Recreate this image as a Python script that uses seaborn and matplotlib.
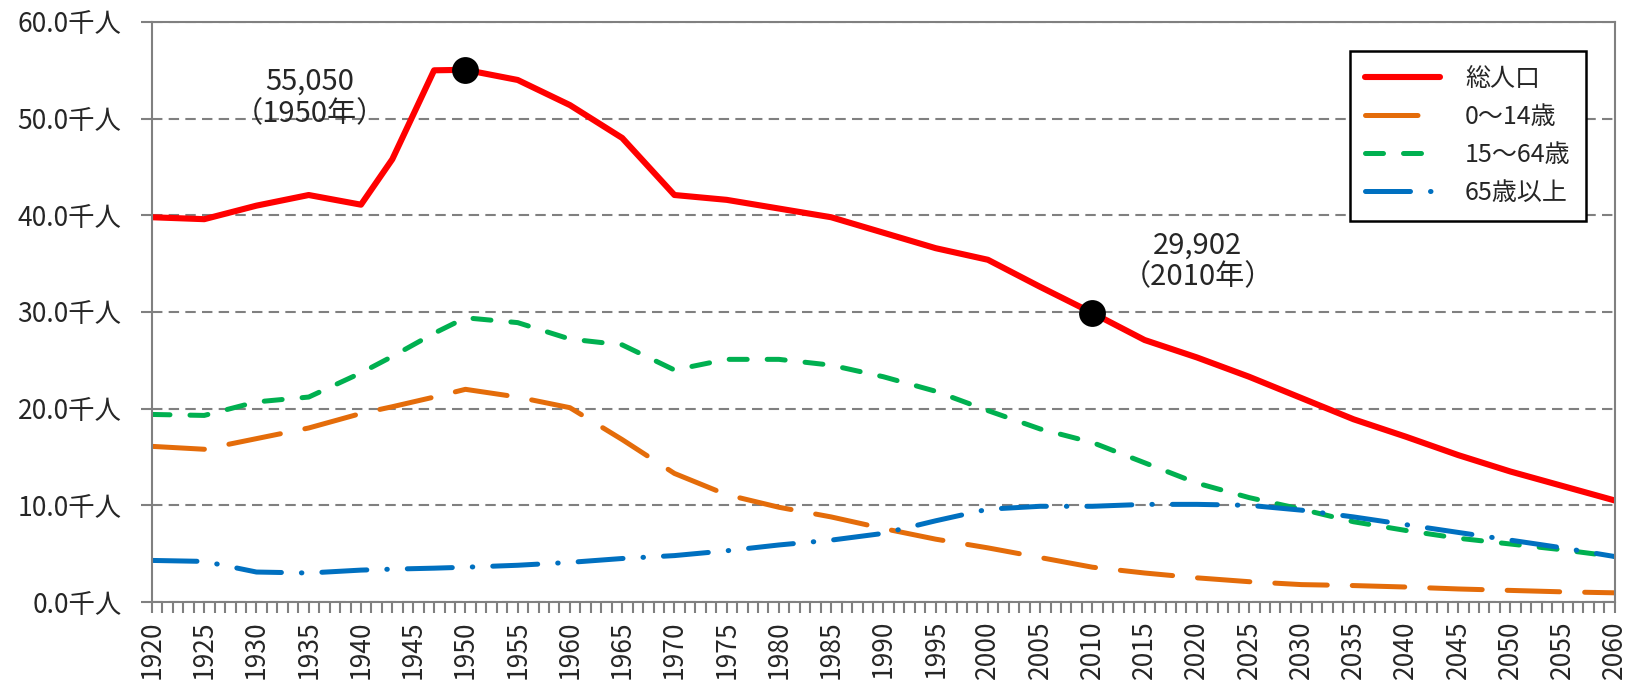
import pandas as pd
import matplotlib
matplotlib.use("Agg")
import matplotlib.pyplot as plt
import seaborn as sns
from matplotlib.ticker import MultipleLocator, FuncFormatter

# values (thousand people)
years = [1920, 1925, 1930, 1935, 1940, 1943, 1947, 1950, 1955, 1960, 1965, 1970, 1975,
         1980, 1985, 1990, 1995, 2000, 2005, 2010, 2015, 2020, 2025, 2030, 2035, 2040,
         2045, 2050, 2055, 2060]
total = [39.8, 39.6, 41.0, 42.1, 41.1, 45.8, 55.0, 55.05, 54.0, 51.4, 48.0, 42.1, 41.6,
         40.7, 39.8, 38.2, 36.6, 35.4, 32.6, 29.902, 27.1, 25.3, 23.3, 21.1, 18.9, 17.1,
         15.2, 13.5, 12.0, 10.5]
age_0_14 = [16.1, 15.8, 16.9, 18.0, 19.5, 20.2, 21.2, 22.0, 21.2, 20.1, 16.8, 13.3, 11.1,
            9.8, 8.8, 7.6, 6.5, 5.6, 4.6, 3.6, 3.0, 2.5, 2.1, 1.8, 1.7, 1.55,
            1.35, 1.2, 1.05, 0.95]
age_15_64 = [19.4, 19.3, 20.7, 21.2, 23.7, 25.4, 27.8, 29.4, 28.9, 27.2, 26.6, 24.0, 25.1,
             25.1, 24.5, 23.3, 21.8, 19.8, 17.9, 16.5, 14.4, 12.3, 10.8, 9.6, 8.3, 7.4,
             6.6, 6.0, 5.4, 4.7]
age_65 = [4.3, 4.2, 3.1, 3.0, 3.3, 3.4, 3.5, 3.6, 3.8, 4.1, 4.5, 4.8, 5.3,
          5.9, 6.4, 7.1, 8.4, 9.6, 9.9, 9.9, 10.1, 10.1, 10.0, 9.5, 8.8, 8.0,
          7.2, 6.4, 5.6, 4.7]

series_names = ["総人口", "0～14歳", "15～64歳", "65歳以上"]
marked_years = [1950, 2010]
marked_labels = ["55,050\n（1950年）", "29,902\n（2010年）"]
y_ticks = [0, 10, 20, 30, 40, 50, 60]

# long-form table for seaborn
wide = pd.DataFrame({"年": years, series_names[0]: total, series_names[1]: age_0_14,
                     series_names[2]: age_15_64, series_names[3]: age_65})
data = wide.melt(id_vars="年", var_name="区分", value_name="人口")

sns.set_style("white")
plt.rcParams["font.family"] = ["Noto Sans CJK JP", "DejaVu Sans"]

colors = {"総人口": "#FF0000", "0～14歳": "#E46C0A", "15～64歳": "#00B050", "65歳以上": "#0070C0"}
dashes = {"総人口": "", "0～14歳": (10.5, 5), "15～64歳": (3.6, 4), "65歳以上": (9, 4, 0.1, 4)}
widths = {"総人口": 4.4, "0～14歳": 3.6, "15～64歳": 3.6, "65歳以上": 3.6}

fig = plt.figure(figsize=(16.29, 6.8), dpi=100)
ax = fig.add_axes([0.0933, 0.1147, 0.898, 0.853])

sns.lineplot(data=data, x="年", y="人口", hue="区分", style="区分", size="区分",
             hue_order=series_names, style_order=series_names, size_order=series_names,
             palette=colors, dashes=dashes, sizes=widths, legend=False, ax=ax,
             dash_capstyle="round", solid_capstyle="round", solid_joinstyle="round")
line_handles = list(ax.lines[:4])

# highlighted points
marks = wide[wide["年"].isin(marked_years)]
sns.scatterplot(x=marks["年"], y=marks["総人口"], color="black", s=320,
                edgecolor="black", zorder=5, ax=ax, legend=False)
offsets = [(-112, -20), (76, 37)]
for (_, row), text, off in zip(marks.iterrows(), marked_labels, offsets):
    ax.annotate(text, xy=(row["年"], row["総人口"]), xytext=off,
                textcoords="offset points", ha="center", va="center",
                multialignment="center", fontsize=21, linespacing=1.1)

# axes
ax.set_xlim(1920, 2060)
ax.set_ylim(0, 60)
ax.xaxis.set_major_locator(MultipleLocator(5))
ax.xaxis.set_minor_locator(MultipleLocator(1))
ax.set_yticks(y_ticks)
ax.yaxis.set_major_formatter(FuncFormatter(lambda v, p: f"{v:.1f}千人"))
ax.tick_params(axis="x", which="both", direction="out", length=8, width=1.5,
               color="#808080", bottom=True, labelsize=19, labelrotation=90, pad=5)
ax.tick_params(axis="y", direction="out", length=8, width=1.5, color="#808080",
               left=True, labelsize=19, pad=14)
ax.set_xlabel("")
ax.set_ylabel("")
ax.grid(axis="y", color="#808080", linestyle=(0, (5, 3)), linewidth=1.5)
ax.grid(axis="x", visible=False)
for side in ["left", "bottom", "right", "top"]:
    ax.spines[side].set_color("#808080")
    ax.spines[side].set_linewidth(1.5)

leg = ax.legend(line_handles, series_names, loc="upper right", bbox_to_anchor=(0.98, 0.95),
                fontsize=18, handlelength=3.0, handletextpad=1.0, labelspacing=0.48,
                borderpad=0.6, borderaxespad=0, fancybox=False, framealpha=1,
                edgecolor="black")
leg.get_frame().set_linewidth(1.8)

fig.savefig("out.png", dpi=100)
